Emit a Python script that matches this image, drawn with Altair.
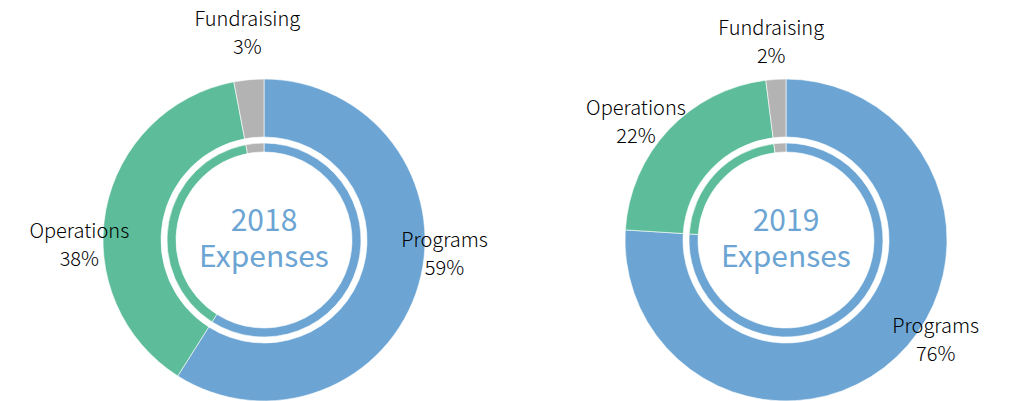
import altair as alt
import pandas as pd

years = ["2018", "2019"]
categories = ["Programs", "Operations", "Fundraising"]
values_2018 = [59, 38, 3]
values_2019 = [76, 22, 2]
colors = ["#6CA5D3", "#5DBD9A", "#B3B3B3"]

rows = []
for yr, vals in zip(years, [values_2018, values_2019]):
    for i, (c, v) in enumerate(zip(categories, vals)):
        rows.append({"year": yr, "category": c, "value": v, "order": i,
                     "label": f"{c}\n{v}%"})
df = pd.DataFrame(rows)

FONT = "Noto Sans CJK JP"
centers = {"2018": (264, 240), "2019": (786, 240)}
LABEL_R = 188
# label nudges (style offsets from the wedge mid-angle anchor)
nudge = {
    ("2018", "Programs"): (0, -51),
    ("2018", "Operations"): (0, 27),
    ("2018", "Fundraising"): (1, -33),
    ("2019", "Programs"): (21, -50),
    ("2019", "Operations"): (-13, -2),
    ("2019", "Fundraising"): (-3, -23),
}

color = alt.Color("category:N", scale=alt.Scale(domain=categories, range=colors), legend=None)

layers = []
for yr in years:
    cx, cy = centers[yr]
    base = alt.Chart(df).transform_filter(alt.datum.year == yr).encode(
        theta=alt.Theta("value:Q", stack=True),
        order=alt.Order("order:Q"),
        x=alt.value(cx),
        y=alt.value(cy),
    )
    outer = base.mark_arc(radius=161, radius2=103, stroke="white", strokeWidth=0.6).encode(color=color)
    inner = base.mark_arc(radius=97, radius2=88, stroke="white", strokeWidth=0.6).encode(color=color)
    layers += [outer, inner]
    for cat in categories:
        ddx, ddy = nudge[(yr, cat)]
        lab = base.mark_text(radius=LABEL_R, lineBreak="\n", font=FONT, fontSize=20, fontWeight=300,
                             lineHeight=28, color="#000000", align="center", baseline="middle",
                             dx=ddx, dy=ddy).encode(
            text=alt.condition(alt.datum.category == cat, "label:N", alt.value(""))
        )
        layers.append(lab)
    center = alt.Chart(pd.DataFrame({"t": [f"{yr}\nExpenses"]})).mark_text(
        lineBreak="\n", font=FONT, fontSize=30, fontWeight=400, lineHeight=36, color="#6CA5D3",
        align="center", baseline="alphabetic", dy=-9
    ).encode(text="t:N", x=alt.value(cx), y=alt.value(cy))
    layers.append(center)

chart = alt.layer(*layers).resolve_scale(theta="independent").properties(
    width=1017, height=401, padding=0, autosize=alt.AutoSizeParams(type="none")
).configure_view(stroke=None)

chart.save("out.html", embed_options={"renderer": "svg", "actions": False})
